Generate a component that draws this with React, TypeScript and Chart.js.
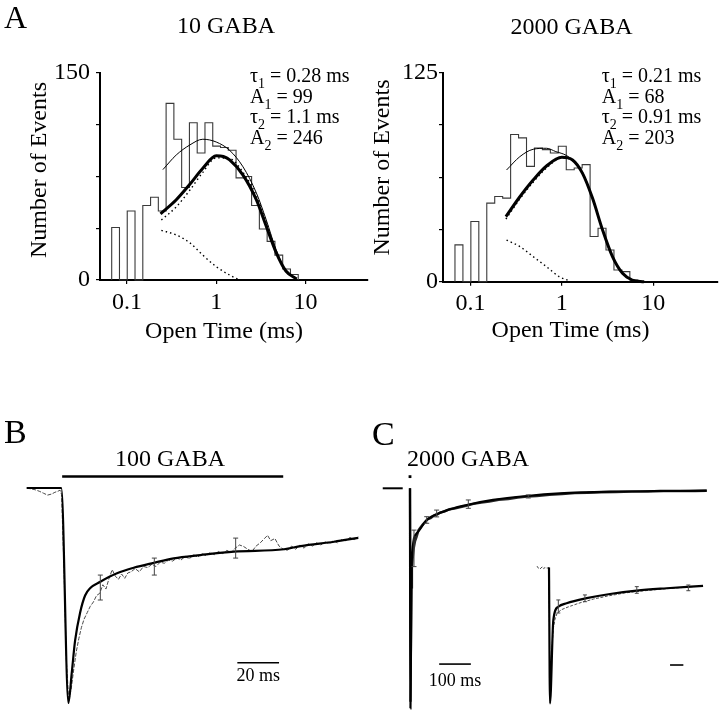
import React, { useEffect, useRef } from "react";
import { Chart, registerables } from "chart.js";

Chart.register(...registerables);

const SERIF = '"Liberation Serif", "Times New Roman", Times, serif';

// ---------- Panel A: open-time histograms (log-binned) ----------
const BIN_EDGES = [0.0676, 0.0826, 0.1009, 0.1233, 0.1507, 0.1841, 0.2249, 0.2748, 0.3357, 0.4102, 0.5012, 0.6124, 0.7482, 0.9141, 1.1169, 1.3646, 1.6672, 2.037, 2.4889, 3.0409, 3.7154, 4.5394, 5.5463, 6.7764, 8.2794];
const COUNTS_10 = [38, 0, 50, 0, 54, 60, 50, 128, 102, 67, 114, 92, 114, 97, 96, 94, 74, 75, 54, 37, 28, 18, 8, 4];
const COUNTS_2000 = [22, 0, 36, 0, 47, 51, 50, 88, 86, 69, 80, 79, 77, 81, 67, 68, 70, 27, 32, 19, 7, 6, 1];

const X_TICKS = [0.1, 1, 10];
const Y_TICKS_10 = [0, 37.5, 75, 112.5, 150];
const Y_TICKS_2000 = [0, 31.25, 62.5, 93.75, 125];

const FIT_SUM_10 = [[0.238, 48], [0.355, 58], [0.501, 69], [0.708, 81], [1, 90], [1.202, 89.5], [1.413, 87], [1.995, 76], [2.818, 58], [3.631, 39], [4.677, 20], [6.026, 6.5], [7.943, 0.8]];
const FIT_ALT_10 = [[0.253, 80], [0.357, 90.6], [0.505, 97.8], [0.708, 102], [1, 100], [1.41, 94], [1.995, 82], [2.818, 63], [3.631, 43.5], [4.677, 22], [6.026, 7], [7.943, 1]];
const FIT_SLOW_10 = [[0.243, 43.5], [0.357, 53], [0.505, 65], [0.708, 78], [1, 88.5], [1.41, 88], [1.995, 78], [2.818, 61], [3.631, 42], [4.677, 21], [6.026, 6.5], [7.943, 0.8]];
const FIT_FAST_10 = [[0.243, 36], [0.357, 32.6], [0.505, 27], [0.708, 18], [1, 9.7], [1.41, 3.6], [1.738, 0.7]];

const FIT_SUM_2000 = [[0.244, 38.9], [0.347, 50.8], [0.485, 60.8], [0.679, 69.2], [1, 74.4], [1.309, 72.8], [1.683, 64.8], [2.163, 50], [2.786, 31], [3.581, 15], [4.613, 5], [5.888, 1], [7.943, 0]];
const FIT_ALT_2000 = [[0.248, 66.8], [0.347, 74.8], [0.485, 79.2], [0.679, 79.8], [0.859, 77.8], [1.122, 75.5], [1.413, 71], [1.683, 65.5], [2.163, 50.5], [2.786, 31.5], [3.581, 15.3], [4.613, 5.2], [5.888, 1.1], [7.943, 0.1]];
const FIT_SLOW_2000 = [[0.244, 37.5], [0.347, 49.5], [0.485, 59.5], [0.679, 68], [1, 74], [1.309, 72.5], [1.683, 64.5], [2.163, 49.7], [2.786, 30.8], [3.581, 14.8], [4.613, 4.9], [5.888, 1], [7.943, 0]];
const FIT_FAST_2000 = [[0.248, 24.9], [0.347, 21], [0.485, 15], [0.679, 9], [0.933, 3], [1.202, 0.6]];

const PARAMS_10: [string, string, string][] = [["τ", "1", " = 0.28 ms"], ["A", "1", " = 99"], ["τ", "2", " = 1.1 ms"], ["A", "2", " = 246"]];
const PARAMS_2000: [string, string, string][] = [["τ", "1", " = 0.21 ms"], ["A", "1", " = 68"], ["τ", "2", " = 0.91 ms"], ["A", "2", " = 203"]];

// ---------- Panel B: 100 GABA current (time ms, normalized current) ----------
const B_FIT = [[-17, 0], [-0.4, 0], [3.0, -1.0], [4.6, -0.86], [6.2, -0.71], [8.6, -0.58], [11, -0.5], [13.5, -0.465], [18.3, -0.436], [26.3, -0.397], [34.3, -0.371], [43.9, -0.348], [53.5, -0.327], [66.3, -0.312], [82.4, -0.296], [106.4, -0.285], [114.4, -0.27], [130.4, -0.25], [142, -0.232]];
const B_DATA = [[-17, 0], [-15, -0.004], [-13, -0.008], [-11, -0.015], [-9, -0.024], [-7, -0.033], [-5, -0.028], [-3.5, -0.02], [-2, -0.015], [-1, -0.01], [-0.3, -0.03], [0.8, -0.35], [2, -0.8], [3.2, -0.99], [4.4, -0.93], [5.6, -0.84], [6.8, -0.76], [8, -0.7], [9.2, -0.65], [10.5, -0.61], [12, -0.58], [13.5, -0.55], [15, -0.53], [16.5, -0.5], [18, -0.49], [19.5, -0.45], [21, -0.47], [22.5, -0.42], [24, -0.38], [25.5, -0.41], [27, -0.425], [28.5, -0.4], [30, -0.42], [31.5, -0.395], [33, -0.39], [35, -0.375], [37, -0.39], [39, -0.365], [41, -0.37], [43, -0.355], [45, -0.365], [47, -0.345], [49, -0.35], [51, -0.335], [53, -0.34], [55, -0.325], [57, -0.335], [59, -0.318], [61, -0.33], [63, -0.31], [65, -0.322], [67, -0.305], [69, -0.315], [71, -0.3], [73, -0.31], [75, -0.295], [77, -0.305], [79, -0.29], [81, -0.3], [83, -0.28], [85, -0.265], [87, -0.272], [89, -0.285], [91, -0.295], [93, -0.27], [95, -0.255], [97, -0.235], [98.5, -0.22], [100, -0.245], [102, -0.235], [104, -0.27], [106, -0.285], [108, -0.29], [110, -0.27], [112, -0.285], [114, -0.265], [116, -0.28], [118, -0.26], [120, -0.27], [122, -0.255], [124, -0.265], [126, -0.25], [128, -0.26], [130, -0.245], [132, -0.255], [134, -0.24], [136, -0.245], [138, -0.23], [140, -0.24], [142, -0.228]];
const B_ERR = [[18.3, -0.521, -0.405], [44.2, -0.405, -0.326], [83.2, -0.326, -0.233]];
const B_GABA = [[0, 0.053], [106, 0.053]];
const B_SCALE = [[84, -0.813], [104, -0.813]];

// ---------- Panel C: 2000 GABA current ----------
const C_FIT = [[0, 0], [1.5, -1.0], [5.4, -0.33], [21, -0.205], [53, -0.144], [105, -0.106], [179, -0.076], [262, -0.053], [368, -0.035], [473, -0.023], [631, -0.015], [789, -0.012], [936, -0.011]];
const C_DATA = [[0, 0], [1.5, -0.97], [4, -0.45], [6, -0.36], [9, -0.31], [12, -0.27], [16, -0.24], [21, -0.22], [27, -0.19], [33, -0.178], [40, -0.165], [48, -0.152], [56, -0.14], [65, -0.136], [75, -0.125], [85, -0.12], [95, -0.11], [110, -0.105], [125, -0.095], [140, -0.092], [160, -0.085], [180, -0.078], [200, -0.071], [225, -0.065], [250, -0.06], [280, -0.052], [310, -0.049], [340, -0.042], [370, -0.038], [400, -0.035], [440, -0.03], [480, -0.026], [520, -0.022], [560, -0.021], [600, -0.018], [650, -0.017], [700, -0.015], [750, -0.015], [800, -0.013], [850, -0.013], [900, -0.012], [936, -0.011]];
const C_ERR = [[12.6, -0.356, -0.19], [52.7, -0.159, -0.129], [84, -0.13, -0.099], [184, -0.091, -0.053], [373, -0.044, -0.03]];
const C_PULSE = [[0, 0.053]];
const C_BASE = [[-86, 0], [-23, 0]];
const C_SCALE = [[92, -0.799], [192, -0.799]];

// inset of panel C (faster time base)
const CI_FIT = [[0, 0], [1.5, -1.0], [6.5, -0.387], [14, -0.289], [26.5, -0.263], [56.6, -0.226], [91.7, -0.195], [131.8, -0.17], [176.9, -0.153], [231.6, -0.136]];
const CI_DATA = [[-18, 0.01], [-16, -0.005], [-14, -0.012], [-12, -0.004], [-10, 0.006], [-8, -0.008], [-6, 0.0], [-3, -0.005], [0, 0], [1.5, -0.98], [4, -0.62], [6.5, -0.45], [9, -0.38], [12, -0.34], [15, -0.325], [19, -0.31], [24, -0.3], [29, -0.29], [35, -0.28], [42, -0.268], [50, -0.255], [58, -0.245], [67, -0.232], [77, -0.222], [88, -0.21], [100, -0.2], [113, -0.188], [127, -0.18], [142, -0.172], [157, -0.165], [172, -0.158], [188, -0.152], [205, -0.146], [220, -0.14], [232, -0.138]];
const CI_ERR = [[14, -0.335, -0.239], [54, -0.252, -0.202], [132, -0.19, -0.141], [209.5, -0.171, -0.129]];
const CI_SCALE = [[182, -0.718], [202, -0.718]];

// ---------- helpers ----------
const xy = (a: number[][]) => a.map(([x, y]) => ({ x, y }));
const fnt = (size: number) => `${size}px ${SERIF}`;

function drawText(ctx: CanvasRenderingContext2D, s: string, x: number, y: number, size: number, align: CanvasTextAlign = "left", baseline: CanvasTextBaseline = "alphabetic", rot = 0) {
  ctx.save();
  ctx.font = fnt(size);
  ctx.fillStyle = "#000";
  ctx.textAlign = align;
  ctx.textBaseline = baseline;
  ctx.translate(x, y);
  if (rot) ctx.rotate(rot);
  ctx.fillText(s, 0, 0);
  ctx.restore();
}

function drawParams(ctx: CanvasRenderingContext2D, rows: [string, string, string][], x: number, y0: number, step: number, size: number) {
  ctx.save();
  ctx.fillStyle = "#000";
  ctx.textAlign = "left";
  ctx.textBaseline = "alphabetic";
  rows.forEach(([a, sub, rest], i) => {
    const y = y0 + i * step;
    let cx = x;
    ctx.font = fnt(size);
    ctx.fillText(a, cx, y);
    cx += ctx.measureText(a).width;
    ctx.font = fnt(Math.round(size * 0.68));
    ctx.fillText(sub, cx, y + size * 0.3);
    cx += ctx.measureText(sub).width;
    ctx.font = fnt(size);
    ctx.fillText(rest, cx, y);
  });
  ctx.restore();
}

function drawErrorBars(chart: any, bars: number[][], cap = 2.5) {
  const { ctx } = chart;
  const sx = chart.scales.x, sy = chart.scales.y;
  ctx.save();
  ctx.strokeStyle = "#444";
  ctx.lineWidth = 1;
  for (const [t, lo, hi] of bars) {
    const px = sx.getPixelForValue(t), p1 = sy.getPixelForValue(lo), p2 = sy.getPixelForValue(hi);
    ctx.beginPath();
    ctx.moveTo(px, p1); ctx.lineTo(px, p2);
    ctx.moveTo(px - cap, p1); ctx.lineTo(px + cap, p1);
    ctx.moveTo(px - cap, p2); ctx.lineTo(px + cap, p2);
    ctx.stroke();
  }
  ctx.restore();
}

const overlay = (id: string, fn: (chart: any) => void) => ({ id, afterDraw: (chart: any) => fn(chart) });

const lineDs = (data: number[][], width: number, color = "#000", dash: number[] = [], smooth = true) => ({
  data: xy(data),
  borderColor: color,
  borderWidth: width,
  borderDash: dash,
  pointRadius: 0,
  fill: false,
  tension: 0,
  cubicInterpolationMode: smooth ? "monotone" : "default",
  clip: false,
});

const baseOptions = (padding: any, scales: any) => ({
  animation: false,
  responsive: false,
  maintainAspectRatio: false,
  events: [],
  layout: { autoPadding: false, padding },
  scales,
  plugins: { legend: { display: false }, tooltip: { enabled: false } },
});

function histConfig(o: any) {
  const outline: { x: number; y: number }[] = [{ x: BIN_EDGES[0], y: 0 }];
  o.counts.forEach((c: number, i: number) => {
    outline.push({ x: BIN_EDGES[i], y: c }, { x: BIN_EDGES[i + 1], y: c });
  });
  outline.push({ x: BIN_EDGES[o.counts.length], y: 0 });
  const tickFont = { family: SERIF, size: 24 };
  return {
    type: "line",
    data: {
      datasets: [
        lineDs(o.sum, 3),
        lineDs(o.slow, 1.4, "#000", [1.5, 3]),
        lineDs(o.fast, 1.4, "#000", [1.5, 3]),
        lineDs(o.alt, 1),
        { data: outline, borderColor: "#3a3a3a", borderWidth: 1.1, pointRadius: 0, fill: false, tension: 0, clip: false },
      ],
    },
    options: baseOptions(
      { left: 0, top: o.padTop, right: o.padRight, bottom: 0 },
      {
        x: {
          type: "logarithmic",
          min: 0.05,
          max: 50,
          afterBuildTicks: (s: any) => { s.ticks = X_TICKS.map((v) => ({ value: v })); },
          afterFit: (s: any) => { s.height = o.xAxisH; },
          ticks: { callback: (v: any) => String(v), font: tickFont, color: "#000", padding: 4, autoSkip: false, maxRotation: 0, minRotation: 0 },
          grid: { drawOnChartArea: false, drawTicks: true, tickLength: 4, color: "#000", lineWidth: 1.2 },
          border: { display: true, color: "#000", width: 2 },
        },
        y: {
          type: "linear",
          min: 0,
          max: o.yMax,
          afterBuildTicks: (s: any) => { s.ticks = o.yTicks.map((v: number) => ({ value: v })); },
          afterFit: (s: any) => { s.width = o.yAxisW; },
          ticks: { callback: (v: any) => (v === 0 || v === o.yMax ? String(v) : ""), font: tickFont, color: "#000", padding: o.yTickPad, autoSkip: false },
          grid: { drawOnChartArea: false, drawTicks: true, tickLength: 4, color: "#000", lineWidth: 1.2 },
          border: { display: true, color: "#000", width: 2 },
        },
      }
    ),
    plugins: [overlay("texts", o.draw)],
  };
}

// ---------- chart factories ----------
const makeHist10 = () =>
  histConfig({
    counts: COUNTS_10, yMax: 150, yTicks: Y_TICKS_10,
    sum: FIT_SUM_10, alt: FIT_ALT_10, slow: FIT_SLOW_10, fast: FIT_FAST_10,
    yAxisW: 100, xAxisH: 70, padTop: 73, padRight: 2, yTickPad: 6,
    draw: (chart: any) => {
      const ctx = chart.ctx;
      drawText(ctx, "A", 4, 28, 32);
      drawText(ctx, "10 GABA", 226, 33, 24, "center");
      drawParams(ctx, PARAMS_10, 250, 82, 20.5, 20);
      drawText(ctx, "Number of Events", 40, 170, 24, "center", "middle", -Math.PI / 2);
      drawText(ctx, "Open Time (ms)", 224, 332, 24, "center", "middle");
    },
  });

const makeHist2000 = () =>
  histConfig({
    counts: COUNTS_2000, yMax: 125, yTicks: Y_TICKS_2000,
    sum: FIT_SUM_2000, alt: FIT_ALT_2000, slow: FIT_SLOW_2000, fast: FIT_FAST_2000,
    yAxisW: 83, xAxisH: 68.3, padTop: 72.7, padRight: 2.9, yTickPad: 1,
    draw: (chart: any) => {
      const ctx = chart.ctx;
      drawText(ctx, "2000 GABA", 211.5, 34, 24, "center");
      drawParams(ctx, PARAMS_2000, 241.7, 82, 20.5, 20);
      drawText(ctx, "Number of Events", 23, 167.5, 24, "center", "middle", -Math.PI / 2);
      drawText(ctx, "Open Time (ms)", 210.5, 331, 24, "center", "middle");
    },
  });

const makeB = () => ({
  type: "line",
  data: {
    datasets: [
      lineDs(B_FIT, 2.2),
      lineDs(B_DATA, 1, "#4a4a4a", [4, 1.5], false),
      lineDs(B_GABA, 2.5, "#000", [], false),
      lineDs(B_SCALE, 1.6, "#000", [], false),
    ],
  },
  options: baseOptions(
    { left: 26.7, right: 1.7, top: 66.5, bottom: 0.25 },
    { x: { type: "linear", min: -17, max: 142, display: false }, y: { type: "linear", min: -1.05, max: 0.1, display: false } }
  ),
  plugins: [
    overlay("texts", (chart: any) => {
      const ctx = chart.ctx;
      drawErrorBars(chart, B_ERR);
      drawText(ctx, "B", 4, 43, 34);
      drawText(ctx, "100 GABA", 170, 66, 24, "center");
      const sx = chart.scales.x, sy = chart.scales.y;
      const mid = sx.getPixelForValue((B_SCALE[0][0] + B_SCALE[1][0]) / 2);
      drawText(ctx, "20 ms", mid, sy.getPixelForValue(B_SCALE[0][1]) + 18, 18, "center");
    }),
  ],
});

const makeC = () => ({
  type: "line",
  data: {
    datasets: [
      lineDs(C_FIT, 2.2),
      lineDs(C_DATA, 2.4, "#2a2a2a", [], false),
      lineDs(C_BASE, 2, "#000", [], false),
      lineDs(C_SCALE, 1.6, "#000", [], false),
      { data: xy(C_PULSE), showLine: false, pointStyle: "rect", pointRadius: 2, backgroundColor: "#000", borderColor: "#000", borderWidth: 0, clip: false },
    ],
  },
  options: baseOptions(
    { left: 21.47, right: 8.85, top: 66.3, bottom: 0.2 },
    { x: { type: "linear", min: -90, max: 950, display: false }, y: { type: "linear", min: -1.025, max: 0.1, display: false } }
  ),
  plugins: [
    overlay("texts", (chart: any) => {
      const ctx = chart.ctx;
      drawErrorBars(chart, C_ERR);
      drawText(ctx, "C", 12, 45, 34);
      drawText(ctx, "2000 GABA", 108, 66, 24, "center");
      const sx = chart.scales.x, sy = chart.scales.y;
      const mid = sx.getPixelForValue((C_SCALE[0][0] + C_SCALE[1][0]) / 2);
      drawText(ctx, "100 ms", mid, sy.getPixelForValue(C_SCALE[0][1]) + 22, 18, "center");
    }),
  ],
});

const makeCInset = () => ({
  type: "line",
  data: {
    datasets: [
      lineDs(CI_FIT, 2.2),
      lineDs(CI_DATA, 1, "#4a4a4a", [3, 1.5], false),
      lineDs(CI_SCALE, 1.6, "#000", [], false),
    ],
  },
  options: baseOptions(
    { left: 175.7, right: 14.7, top: 160.7, bottom: 3.9 },
    { x: { type: "linear", min: -20, max: 235, display: false }, y: { type: "linear", min: -1.05, max: 0.05, display: false } }
  ),
  plugins: [overlay("errs", (chart: any) => drawErrorBars(chart, CI_ERR, 2))],
});

function ChartCanvas({ x, y, w, h, make }: { x: number; y: number; w: number; h: number; make: () => any }) {
  const ref = useRef<HTMLCanvasElement>(null);
  useEffect(() => {
    const chart = new Chart(ref.current as HTMLCanvasElement, make());
    return () => chart.destroy();
  }, []);
  return <canvas ref={ref} width={w} height={h} style={{ position: "absolute", left: x, top: y, width: w, height: h }} />;
}

export default function App() {
  return (
    <div style={{ position: "absolute", left: 0, top: 0, width: 720, height: 714, overflow: "hidden", background: "#fff" }}>
      <ChartCanvas x={0} y={0} w={370} h={350} make={makeHist10} />
      <ChartCanvas x={360} y={0} w={360} h={350} make={makeHist2000} />
      <ChartCanvas x={0} y={400} w={360} h={314} make={makeB} />
      <ChartCanvas x={360} y={400} w={360} h={314} make={makeC} />
      <ChartCanvas x={360} y={400} w={360} h={314} make={makeCInset} />
    </div>
  );
}
